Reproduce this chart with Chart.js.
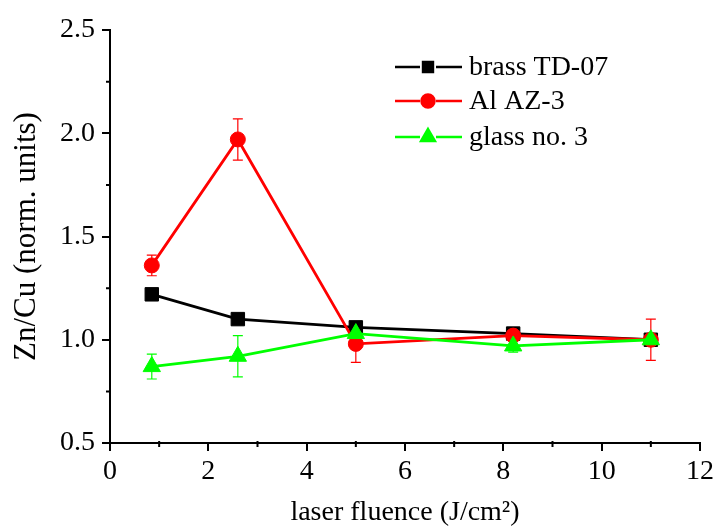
<!DOCTYPE html>
<html>
<head>
<meta charset="utf-8">
<script src="https://cdn.jsdelivr.net/npm/chart.js@4.4.1/dist/chart.umd.min.js"></script>
<style>
html,body{margin:0;padding:0;background:#fff;}
#wrap{width:714px;height:527px;}
</style>
</head>
<body>
<div id="wrap"><canvas id="c" width="714" height="527"></canvas></div>
<script>
const fluence = [0.85, 2.6, 5.0, 8.2, 11.0];
const brassTD07 = [1.22, 1.10, 1.06, 1.03, 1.00];
const brassErr  = [0.02, 0.02, 0.02, 0.02, 0.02];
const alAZ3     = [1.36, 1.97, 0.98, 1.02, 1.00];
const alErr     = [0.05, 0.10, 0.09, 0.02, 0.10];
const glass3    = [0.87, 0.92, 1.03, 0.97, 1.00];
const glassErr  = [0.06, 0.10, 0.03, 0.03, 0.02];
const seriesNames = ['brass TD-07', 'Al AZ-3', 'glass no. 3'];
const xTicks = [0, 2, 4, 6, 8, 10, 12];
const yTicks = [0.5, 1.0, 1.5, 2.0, 2.5];

const FONT = '"Liberation Serif", "Times New Roman", serif';
const GREEN = '#00ff00';

function pts(ys) { return fluence.map((x, i) => ({x: x, y: ys[i]})); }

const errorBars = {
  id: 'errorBars',
  beforeDatasetsDraw(chart) {
    const ctx = chart.ctx, xs = chart.scales.x, ys = chart.scales.y;
    chart.data.datasets.forEach(ds => {
      ctx.save();
      ctx.strokeStyle = ds.borderColor;
      ctx.lineWidth = 1.2;
      ds.data.forEach((p, i) => {
        const e = ds.errors[i];
        const px = xs.getPixelForValue(p.x);
        const top = ys.getPixelForValue(p.y + e);
        const bot = ys.getPixelForValue(p.y - e);
        ctx.beginPath();
        ctx.moveTo(px, top); ctx.lineTo(px, bot);
        ctx.moveTo(px - 5, top); ctx.lineTo(px + 5, top);
        ctx.moveTo(px - 5, bot); ctx.lineTo(px + 5, bot);
        ctx.stroke();
      });
      ctx.restore();
    });
  }
};

const minorTicks = {
  id: 'minorTicks',
  afterDraw(chart) {
    const ctx = chart.ctx, xs = chart.scales.x, ys = chart.scales.y;
    const a = chart.chartArea;
    ctx.save();
    ctx.strokeStyle = '#000';
    ctx.lineWidth = 2;
    ctx.beginPath();
    for (let i = 0; i < xTicks.length - 1; i++) {
      const v = (xTicks[i] + xTicks[i + 1]) / 2;
      const px = xs.getPixelForValue(v);
      ctx.moveTo(px, a.bottom - 2); ctx.lineTo(px, a.bottom + 4);
    }
    for (let i = 0; i < yTicks.length - 1; i++) {
      const v = (yTicks[i] + yTicks[i + 1]) / 2;
      const py = ys.getPixelForValue(v);
      ctx.moveTo(a.left + 1, py); ctx.lineTo(a.left - 4, py);
    }
    ctx.stroke();
    ctx.restore();
  }
};

const customLegend = {
  id: 'customLegend',
  afterDraw(chart) {
    const ctx = chart.ctx;
    const rows = [67, 101, 137];
    chart.data.datasets.forEach((ds, i) => {
      const y = rows[i];
      ctx.save();
      ctx.strokeStyle = ds.borderColor;
      ctx.lineWidth = 2.5;
      ctx.beginPath();
      ctx.moveTo(395, y); ctx.lineTo(420, y);
      ctx.moveTo(436, y); ctx.lineTo(462, y);
      ctx.stroke();
      ctx.fillStyle = ds.borderColor;
      Chart.helpers.drawPoint(ctx, {pointStyle: ds.pointStyle, radius: ds.legendRadius, rotation: 0, borderWidth: 1}, 428, y);
      ctx.fillStyle = '#000';
      ctx.font = '28px ' + FONT;
      ctx.textBaseline = 'middle';
      ctx.textAlign = 'left';
      ctx.fillText(seriesNames[i], 469, y + 1);
      ctx.restore();
    });
  }
};

new Chart(document.getElementById('c'), {
  type: 'line',
  data: {
    datasets: [
      {label: seriesNames[0], data: pts(brassTD07), errors: brassErr, borderColor: '#000', backgroundColor: '#000',
       pointStyle: 'rect', pointRadius: 9.5, legendRadius: 7, borderWidth: 2.8, pointBorderWidth: 1, order: 3},
      {label: seriesNames[1], data: pts(alAZ3), errors: alErr, borderColor: '#ff0000', backgroundColor: '#ff0000',
       pointStyle: 'circle', pointRadius: 7.5, legendRadius: 6.5, borderWidth: 2.8, pointBorderWidth: 1, order: 2},
      {label: seriesNames[2], data: pts(glass3), errors: glassErr, borderColor: GREEN, backgroundColor: GREEN,
       pointStyle: 'triangle', pointRadius: 10, legendRadius: 8, borderWidth: 2.8, pointBorderWidth: 1, order: 1}
    ]
  },
  options: {
    responsive: false,
    animation: false,
    layout: {padding: {top: 30, right: 14, left: 0, bottom: 0}},
    plugins: {legend: {display: false}, tooltip: {enabled: false}},
    elements: {line: {tension: 0}},
    scales: {
      x: {
        type: 'linear', min: 0, max: 12,
        afterBuildTicks(s) { s.ticks = xTicks.map(v => ({value: v})); },
        afterFit(s) { s.height = 84; s.paddingRight = 0; s.paddingLeft = 0; },
        ticks: {color: '#000', font: {family: FONT, size: 28}, padding: 4, maxRotation: 0,
                callback: v => String(v)},
        grid: {drawOnChartArea: false, drawTicks: true, tickLength: 8, color: '#000', lineWidth: 2},
        border: {color: '#000', width: 2},
        title: {display: true, text: 'laser fluence (J/cm²)', color: '#000', font: {family: FONT, size: 28}, padding: {top: 0, bottom: -2}}
      },
      y: {
        type: 'linear', min: 0.5, max: 2.5,
        afterBuildTicks(s) { s.ticks = yTicks.map(v => ({value: v})); },
        afterFit(s) { s.width = 110; s.paddingTop = 0; s.paddingBottom = 0; },
        ticks: {color: '#000', font: {family: FONT, size: 28}, padding: 7,
                callback: v => Number(v).toFixed(1)},
        grid: {drawOnChartArea: false, drawTicks: true, tickLength: 8, color: '#000', lineWidth: 2},
        border: {color: '#000', width: 2},
        title: {display: true, text: 'Zn/Cu (norm. units)', color: '#000', font: {family: FONT, size: 31}, padding: {top: 8, bottom: 4}}
      }
    }
  },
  plugins: [errorBars, minorTicks, customLegend]
});
</script>
</body>
</html>
